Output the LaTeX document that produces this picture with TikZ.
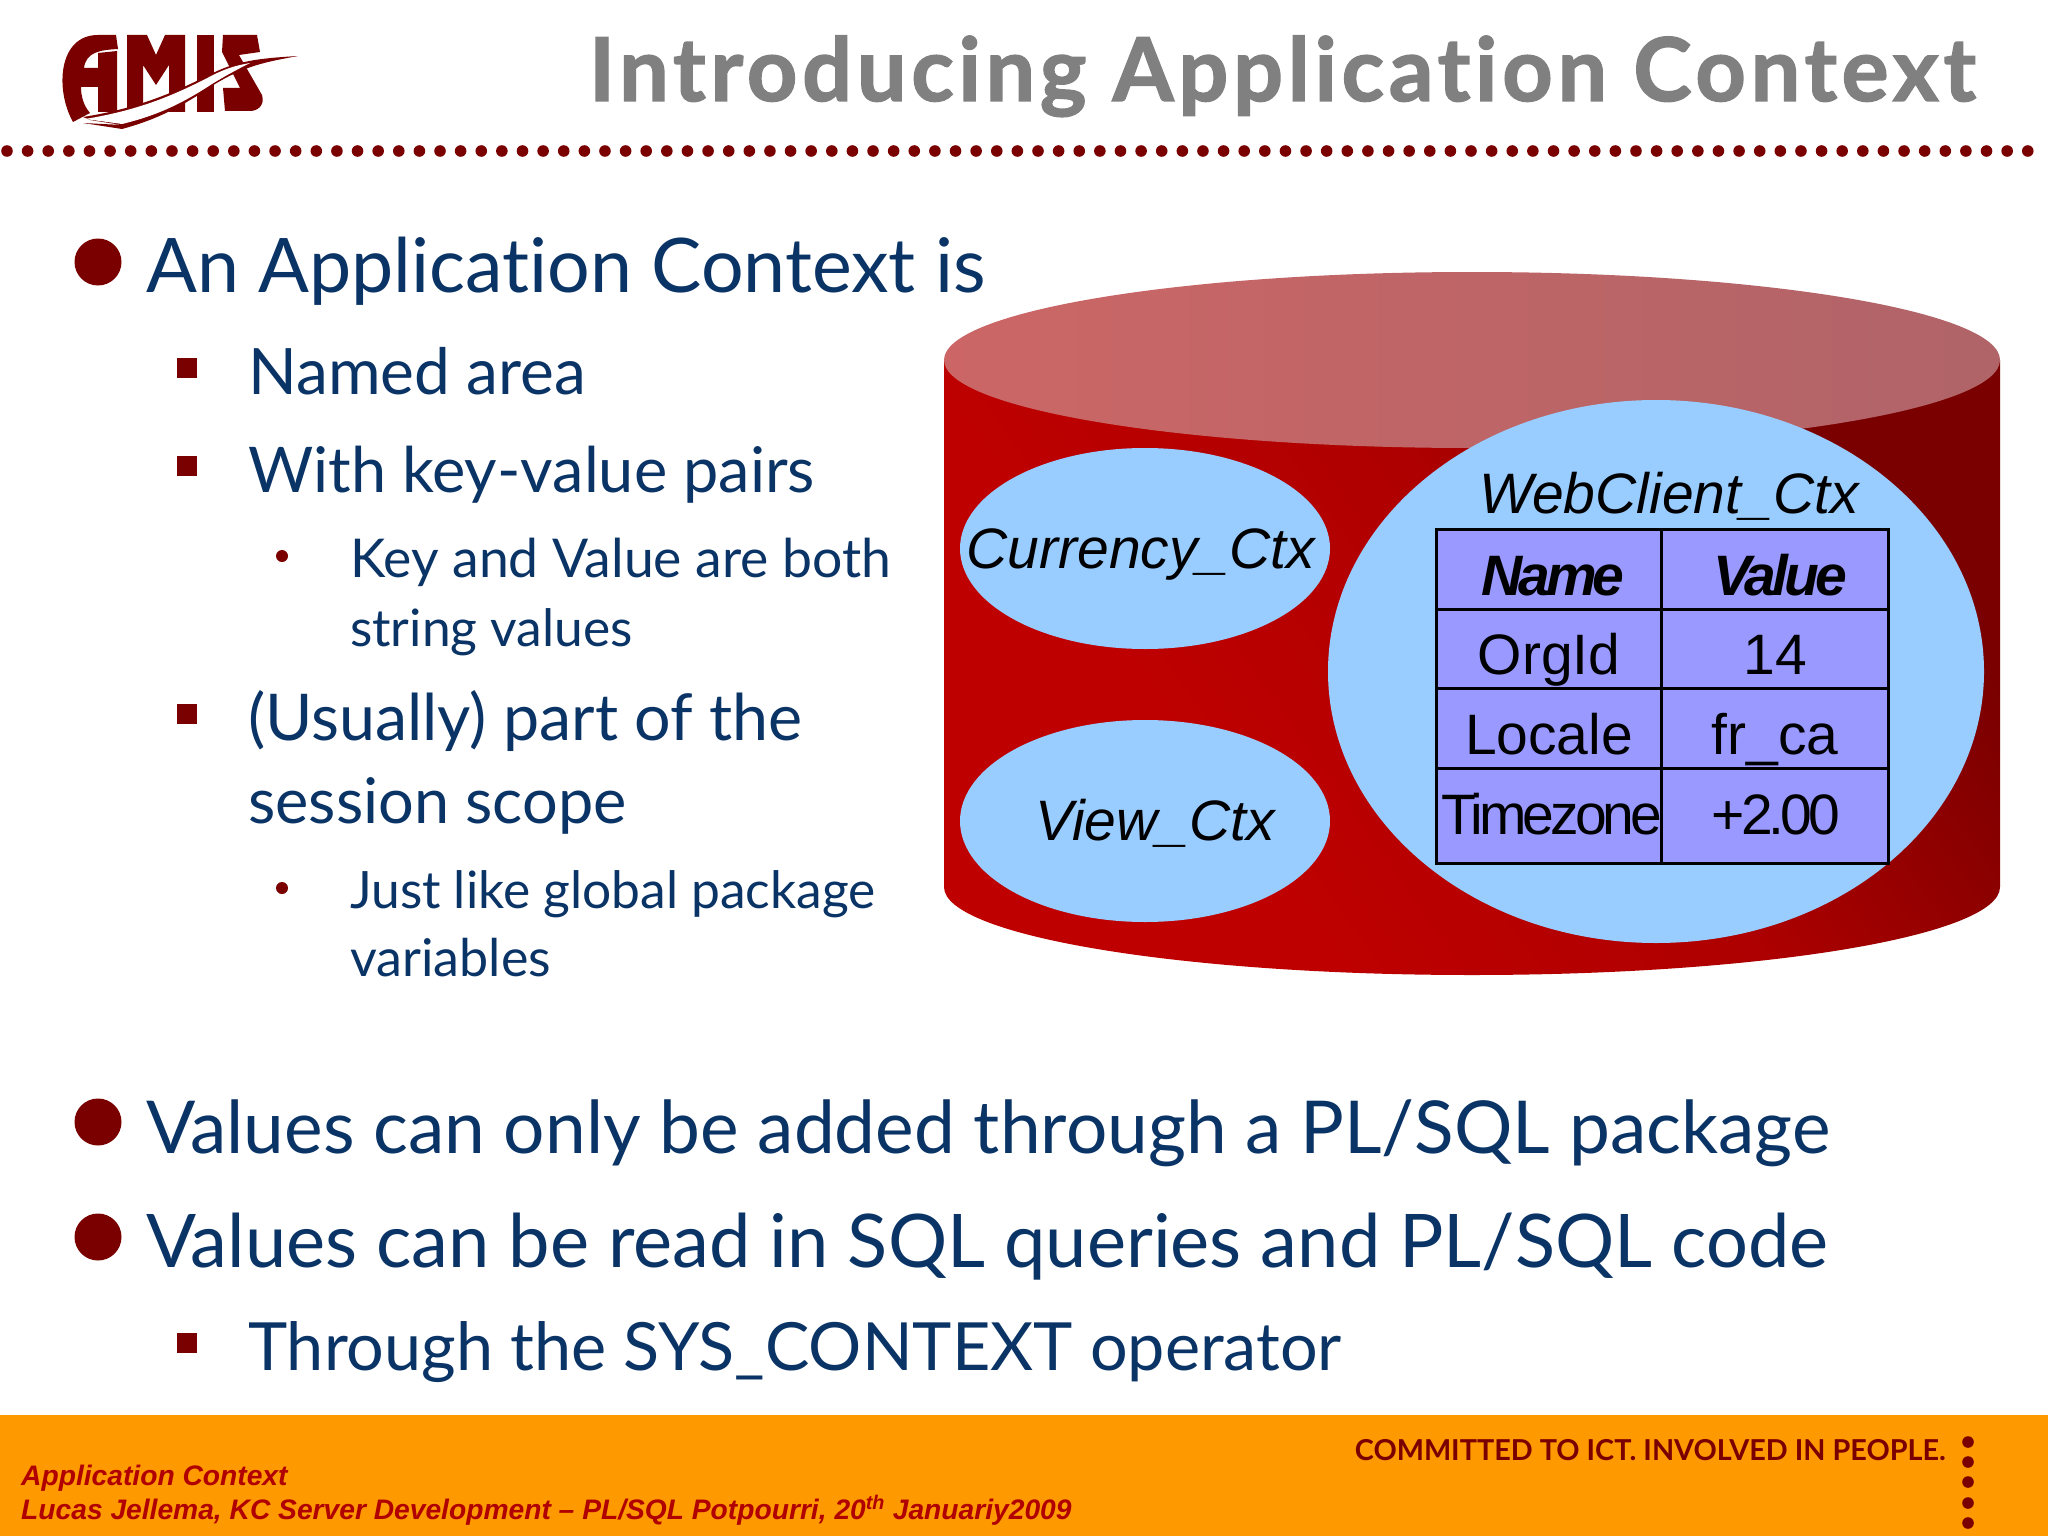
\documentclass[tikz,border=0pt]{standalone}
\usepackage{fontspec}
\setmainfont[Ligatures=NoCommon]{Lato}
\newfontfamily\titlefont[LetterSpace=5.4,Ligatures=NoCommon,BoldFeatures={FakeBold=1.6}]{Lato}
\newfontfamily\commitfont{Lato}
\newfontfamily\arialf{Liberation Sans}
\newfontfamily\arialtight[LetterSpace=-7]{Liberation Sans}
\definecolor{navy}{HTML}{0A3366}
\definecolor{maroon}{HTML}{7A0000}
\definecolor{greyt}{HTML}{808080}
\definecolor{ctx}{HTML}{99CCFF}
\definecolor{cell}{HTML}{9999FF}
\definecolor{foot}{HTML}{FF9900}
\definecolor{footred}{HTML}{B00000}
\definecolor{capl}{HTML}{CC6666}
\definecolor{capr}{HTML}{B06468}
\definecolor{sidel}{HTML}{BE0000}
\definecolor{sidem}{HTML}{AE0000}
\definecolor{sider}{HTML}{7A0000}
\pgfdeclarehorizontalshading{cylside}{100bp}{color(0bp)=(sidel);color(34bp)=(sidel);color(54bp)=(sidem);color(74bp)=(sider);color(100bp)=(sider)}
\tikzset{
 x=1pt,y=-1pt,
 txt/.style={anchor=base west,inner sep=0pt,text=navy},
 fs/.style={txt,font=\fontsize{#1}{#1}\selectfont},
 hdot/.style={fill=maroon,draw=none},
 ctxell/.style={fill=ctx,draw=none},
 ctxlab/.style={anchor=base,inner sep=0pt,font=\arialf\itshape\fontsize{57}{57}\selectfont},
 celllab/.style={anchor=base,inner sep=0pt,font=\arialf\fontsize{57}{57}\selectfont},
 tightlab/.style={anchor=base,inner sep=0pt,font=\arialtight\fontsize{57}{57}\selectfont},
 headlab/.style={anchor=base,inner sep=0pt,font=\arialtight\bfseries\itshape\fontsize{57}{57}\selectfont},
 foottxt/.style={anchor=base west,inner sep=0pt,text=footred,font=\arialf\bfseries\itshape\fontsize{28.2}{28.2}\selectfont},
}
\begin{document}
\begin{tikzpicture}
\useasboundingbox (0,0) rectangle (2048,1536);
\fill[white] (0,0) rectangle (2048,1536);
% title
\node[anchor=base east,inner sep=0pt,text=greyt,font=\titlefont\bfseries\fontsize{88}{88}\selectfont] (title) at (1976,101) {Introducing Application Context};
% dotted rule
\foreach \i in {0,...,98} \fill[hdot] ({7+20.62*\i},151) circle (5.8);
% logo
\fill[maroon] (73,122) .. controls (55,90) and (58,35) .. (98,35) -- (116,35) -- (118,49) .. controls (100,50) and (86,52) .. (84,68) -- (98,68) -- (98,53) -- (117,51) -- (117,112) -- (98,112) -- (98,87) -- (81,87) .. controls (81,97) and (84,106) .. (90,113) -- cycle;
\fill[maroon] (127,35) -- (147,35) -- (156,55) -- (165,35) -- (185,35) -- (185,112) -- (169,112) -- (169,65) -- (156,85) -- (143,65) -- (143,112) -- (127,112) -- cycle;
\fill[maroon] (197,35) -- (214,35) -- (214,112) -- (197,112) -- cycle;
\fill[maroon] (223,35) -- (257,35) -- (260,52) -- (239,55) -- (262,95) .. controls (265,105) and (258,111) .. (250,111) -- (225,111) -- (223,88) -- (240,88) -- (222,52) -- cycle;
\fill[maroon] (83,117) .. controls (140,108) and (175,92) .. (215,72) .. controls (240,60) and (265,58) .. (298,56) .. controls (265,62) and (245,66) .. (215,84) .. controls (180,108) and (155,120) .. (122,129) -- (83,123) -- (122,125) -- (90,120) -- cycle;
\fill[white] (85,119) .. controls (140,110) and (175,95) .. (215,74) .. controls (232,66) and (240,65) .. (250,63) .. controls (238,69) and (225,76) .. (212,84) .. controls (180,105) and (155,116) .. (122,124) -- cycle;
% cylinder
\path[shading=cylside,shading angle=35] (944,360) -- (944,887) arc[start angle=180,end angle=0,x radius=528,y radius=88] -- (2000,360) -- cycle;
\path[left color=capl,right color=capr] (1472,360) ellipse[x radius=528,y radius=88];
% contexts
\path[ctxell] (1145,548.5) ellipse[x radius=185,y radius=100.5];
\path[ctxell] (1145,821) ellipse[x radius=185,y radius=101];
\path[ctxell] (1656,671.5) ellipse[x radius=328,y radius=271.5];
\node[ctxlab] (cur) at (1141,568) {Currency\_Ctx};
\node[ctxlab] (view) at (1155,840) {View\_Ctx};
\node[ctxlab] (web) at (1669,513) {WebClient\_Ctx};
% table
\fill[cell] (1436,529) rectangle (1888,863);
\draw[line width=3pt] (1436,529) rectangle (1888,863);
\draw[line width=3pt] (1661,529) -- (1661,863) (1436,609) -- (1888,609) (1436,688) -- (1888,688) (1436,768) -- (1888,768);
\node[headlab] (n) at (1553,595) {Name};
\node[headlab] (v) at (1780,595) {Value};
\node[celllab] (o) at (1549,674) {OrgId};
\node[celllab] (f) at (1775,674) {14};
\node[celllab] (l) at (1549,754) {Locale};
\node[celllab] (c) at (1775,754) {fr\_ca};
\node[tightlab] (t) at (1552,834) {Timezone};
\node[tightlab] (p) at (1776,834) {+2.00};
% bullets
\foreach \yy in {262,1122,1237} \fill[hdot] (98,\yy) circle (23.5);
\foreach \yy in {368,466,714,1343} \fill[hdot] (177,{\yy-10}) rectangle (197,{\yy+10});
\foreach \yy in {556,888} \fill[hdot] (282,\yy) circle (6);
% text
\node[fs=75.3] (a1) at (146,292) {An Application Context is};
\node[fs=64] (a2) at (248,394) {Named area};
\node[fs=63] (a3) at (248,492) {With key-value pairs};
\node[fs=53.5] (a4) at (350,577) {Key and Value are both};
\node[fs=51.5] (a5) at (350,646) {string values};
\node[fs=64.5] (a6) at (248,740) {(Usually) part of the};
\node[fs=63] (a7) at (248,823) {session scope};
\node[fs=51.5] (a8) at (350,908) {Just like global package};
\node[fs=52] (a9) at (350,976) {variables};
\node[fs=73] (b1) at (146,1153) {Values can only be added through a PL/SQL package};
\node[fs=74] (b2) at (146,1267) {Values can be read in SQL queries and PL/SQL code};
\node[fs=66.5] (b3) at (248,1370) {Through the SYS\_CONTEXT operator};
% footer
\fill[foot] (0,1415) rectangle (2048,1536);
\node[foottxt] (f1) at (21,1485) {Application Context};
\node[foottxt] (f2) at (21,1519) {Lucas Jellema, KC Server Development – PL/SQL Potpourri, 20\textsuperscript{th} Januariy2009};
\node[anchor=base east,inner sep=0pt,text=maroon,font=\commitfont\bfseries\fontsize{28.8}{28.8}\selectfont] (f3) at (1946,1460) {COMMITTED TO ICT. INVOLVED IN PEOPLE.};
\foreach \yy in {1442,1462,1482,1503,1523} \fill[hdot] (1968,\yy) circle (5.8);
\end{tikzpicture}
\end{document}
